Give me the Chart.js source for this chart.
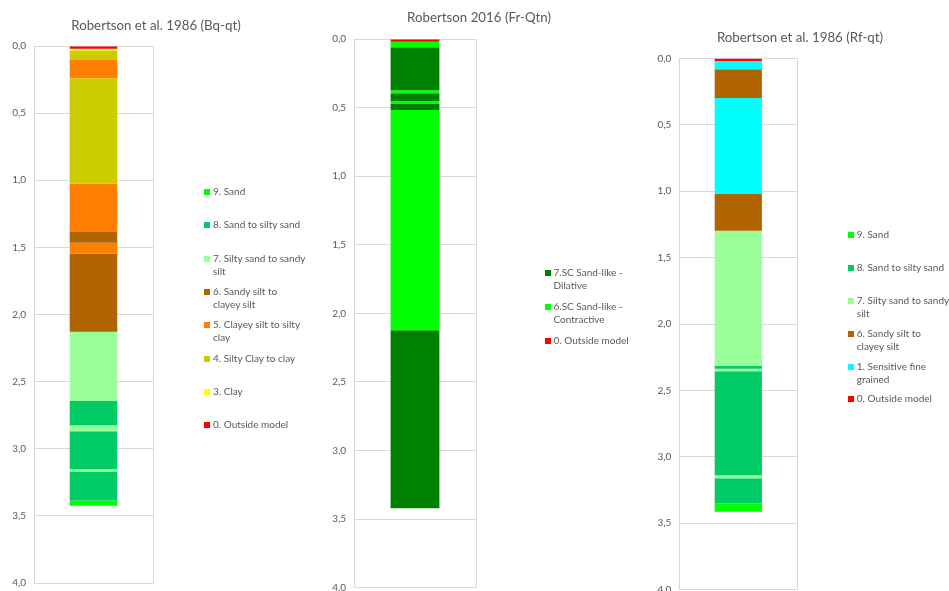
<!DOCTYPE html>
<html>
<head>
<meta charset="utf-8">
<script src="https://cdn.jsdelivr.net/npm/chart.js@4.4.1/dist/chart.umd.min.js"></script>
<style>
  html, body { margin: 0; padding: 0; background: #fff; }
  body { width: 949px; height: 591px; position: relative; overflow: hidden; font-family: Lato, 'Open Sans', sans-serif; }
  .panel { position: absolute; top: 0; }
  .title { position: absolute; font-size: 13.3px; line-height: 16px; color: #595959; white-space: nowrap; transform: translateX(-50%); }
  .legend { position: absolute; font-size: 10px; color: #595959; line-height: 13px; }
  .legend .item { position: absolute; left: 0; white-space: nowrap; }
  .legend .sw { position: absolute; width: 6px; height: 6px; top: 4px; }
  .legend .txt { position: absolute; }
</style>
</head>
<body>
<div class="panel" style="left:0px"><canvas id="chart-bq" width="312" height="591"></canvas></div>
<div class="panel" style="left:318px"><canvas id="chart-fr" width="322" height="591"></canvas></div>
<div class="panel" style="left:651px"><canvas id="chart-rf" width="298" height="591"></canvas></div>
<div class="title" id="title-bq"></div>
<div class="title" id="title-fr"></div>
<div class="title" id="title-rf"></div>
<div class="legend" id="legend-bq"></div>
<div class="legend" id="legend-fr"></div>
<div class="legend" id="legend-rf"></div>

<script>
/* ─── SOIL BEHAVIOUR TYPES ────────────────────────────────── */
var zoneColors = {
  '0': '#ff0000',
  '1': '#00ffff',
  '3': '#ffff00',
  '4': '#cccc00',
  '5': '#ff8000',
  '6': '#b06400',
  '7': '#99ff99',
  '8': '#00cc66',
  '9': '#00ff00',
  '6SC': '#00ff00',
  '7SC': '#008000'
};

var zoneNames = {
  '0': ['0. Outside model'],
  '1': ['1. Sensitive fine', 'grained'],
  '3': ['3. Clay'],
  '4': ['4. Silty Clay to clay'],
  '5': ['5. Clayey silt to silty', 'clay'],
  '6': ['6. Sandy silt to', 'clayey silt'],
  '7': ['7. Silty sand to sandy', 'silt'],
  '8': ['8. Sand to silty sand'],
  '9': ['9. Sand'],
  '6SC': ['6.SC Sand-like -', 'Contractive'],
  '7SC': ['7.SC Sand-like -', 'Dilative']
};

/* ─── DEPTH LOGS (m) — layer boundaries and zone per layer ── */
var yTicks = [0, 0.5, 1, 1.5, 2, 2.5, 3, 3.5, 4];

var bqTitle  = 'Robertson et al. 1986 (Bq-qt)';
var bqBounds = [0, 0.02, 0.035, 0.104, 0.24, 1.025, 1.38, 1.465, 1.545, 2.128, 2.645, 2.825, 2.87, 3.15, 3.17, 3.385, 3.425];
var bqZones  = ['0', '3', '4', '5', '4', '5', '6', '5', '6', '7', '8', '7', '8', '7', '8', '9'];
var bqLegend = ['9', '8', '7', '6', '5', '4', '3', '0'];

var frTitle  = 'Robertson 2016 (Fr-Qtn)';
var frBounds = [0, 0.02, 0.06, 0.374, 0.396, 0.454, 0.474, 0.517, 2.123, 3.42];
var frZones  = ['0', '6SC', '7SC', '6SC', '7SC', '6SC', '7SC', '6SC', '7SC'];
var frLegend = ['7SC', '6SC', '0'];

var rfTitle  = 'Robertson et al. 1986 (Rf-qt)';
var rfBounds = [0, 0.02, 0.083, 0.299, 1.021, 1.298, 2.316, 2.336, 2.356, 3.139, 3.161, 3.352, 3.413];
var rfZones  = ['0', '1', '6', '1', '6', '7', '8', '7', '8', '7', '8', '9'];
var rfLegend = ['9', '8', '7', '6', '1', '0'];

var GRID = '#d9d9d9';
var TEXT = '#595959';

function fmtDepth(v) {
  return Number(v).toFixed(1).replace('.', ',');
}

// One floating bar per layer, all drawn on the same category
function buildLog(id, bounds, zones, box) {
  var datasets = zones.map(function(z, i) {
    return {
      label: zoneNames[z].join(' '),
      data: [[bounds[i], bounds[i + 1]]],
      backgroundColor: zoneColors[z],
      borderWidth: 0,
      grouped: false,
      barPercentage: 0.4,
      categoryPercentage: 1
    };
  });

  return new Chart(document.getElementById(id), {
    type: 'bar',
    data: { labels: [''], datasets: datasets },
    options: {
      responsive: false,
      animation: false,
      layout: { padding: { left: 0, top: box.top, right: box.right, bottom: box.bottom } },
      plugins: {
        legend: { display: false },
        tooltip: { enabled: false }
      },
      scales: {
        x: {
          ticks: { display: false },
          grid: { color: GRID, drawTicks: false },
          border: { color: GRID }
        },
        y: {
          reverse: true,
          min: 0,
          max: 4,
          afterBuildTicks: function(s) { s.ticks = yTicks.map(function(v) { return { value: v }; }); },
          afterFit: function(s) { s.width = box.axis; s.paddingTop = 0; s.paddingBottom = 0; },
          ticks: {
            padding: 8,
            color: TEXT,
            font: { family: 'Lato', size: 10 },
            callback: fmtDepth
          },
          grid: { color: GRID, drawTicks: false },
          border: { color: GRID }
        }
      }
    }
  });
}

function placeTitle(id, text, x, y) {
  var el = document.getElementById(id);
  el.textContent = text;
  el.style.left = x + 'px';
  el.style.top = y + 'px';
}

function buildLegend(id, keys, pos) {
  var el = document.getElementById(id);
  el.style.left = pos.x + 'px';
  el.style.top = pos.y + 'px';
  el.innerHTML = keys.map(function(k, i) {
    return '<div class="item" style="top:' + (i * pos.step).toFixed(1) + 'px">' +
      '<span class="sw" style="left:0;background:' + zoneColors[k] + '"></span>' +
      '<span class="txt" style="left:' + pos.indent + 'px">' + zoneNames[k].join('<br>') + '</span>' +
      '</div>';
  }).join('');
}

buildLog('chart-bq', bqBounds, bqZones, { axis: 34, top: 46, right: 159, bottom: 8 });
buildLog('chart-fr', frBounds, frZones, { axis: 36, top: 39, right: 164, bottom: 3.3 });
buildLog('chart-rf', rfBounds, rfZones, { axis: 28.3, top: 58.3, right: 151.7, bottom: 1.3 });

placeTitle('title-bq', bqTitle, 156, 17);
placeTitle('title-fr', frTitle, 479, 8.7);
placeTitle('title-rf', rfTitle, 800, 29);

buildLegend('legend-bq', bqLegend, { x: 204, y: 185.2, step: 33.33, indent: 9 });
buildLegend('legend-fr', frLegend, { x: 545, y: 265.5, step: 34, indent: 8.5 });
buildLegend('legend-rf', rfLegend, { x: 848.3, y: 227.8, step: 32.94, indent: 8.5 });
</script>
</body>
</html>
